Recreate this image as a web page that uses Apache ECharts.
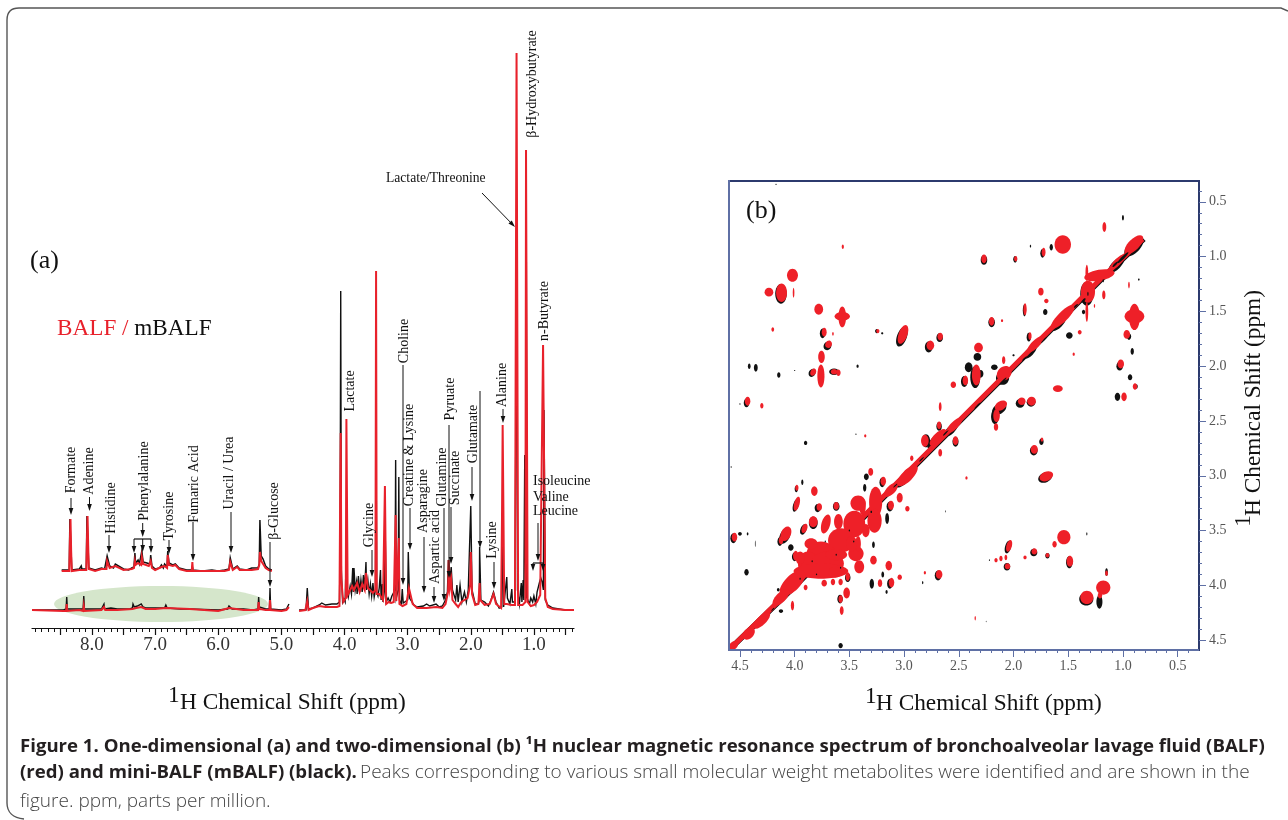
<!DOCTYPE html>
<html>
<head>
<meta charset="utf-8">
<style>html,body{margin:0;padding:0;background:#fff}#c{width:1288px;height:820px}</style>
<script src="https://cdn.jsdelivr.net/npm/echarts@6/dist/echarts.min.js"></script>
</head>
<body>
<div id="c"></div>
<script>
// ---------- Data: 1D spectrum as [ppm, intensity] ----------
const blackDownfield = [[8.95,0],[8.45,0],[8.41,1],[8.40,13],[8.39,1],[8.2,1],[8.14,1],[8.13,14],[8.12,1],[7.85,1],[7.82,1],[7.81,6],[7.80,1],[7.7,2],[7.6,1],[7.4,1],[7.36,2],[7.35,6],[7.33,3],[7.31,5],[7.28,4],[7.25,4],[7.22,6],[7.19,3],[7.17,5],[7.15,2],[7.05,2],[6.98,2],[6.85,2],[6.83,5],[6.81,2],[6.6,1],[6.46,1],[6.45,2],[6.44,1],[6.0,0],[5.85,1],[5.83,4],[5.80,3],[5.78,1],[5.6,1],[5.45,0],[5.37,1],[5.36,13],[5.35,3],[5.25,1],[5.19,1],[5.18,22],[5.17,1],[5.0,0],[4.92,1],[4.88,6]];
const redDownfield = [[8.95,0],[8.45,-1],[8.41,-1],[8.40,6],[8.39,-1],[8.2,0],[8.14,-1],[8.13,4],[8.12,-1],[7.85,0],[7.81,3],[7.79,0],[7.6,0],[7.36,1],[7.35,3],[7.3,2],[7.22,3],[7.15,1],[7.0,1],[6.83,2],[6.8,0],[6.45,1],[6.44,0],[6.0,-1],[5.83,2],[5.8,0],[5.6,0],[5.37,0],[5.36,8],[5.35,1],[5.25,0],[5.19,0],[5.18,10],[5.17,0],[5.0,-1],[4.92,0],[4.88,3]];
const blackUpfield = [[4.72,0],[4.61,0],[4.60,2],[4.59,22],[4.58,22],[4.57,1],[4.5,2],[4.40,5],[4.36,7],[4.30,5],[4.2,6],[4.12,6],[4.08,8],[4.07,60],[4.06,319],[4.05,40],[4.03,8],[4.01,11],[3.99,8],[3.97,63],[3.96,20],[3.94,13],[3.91,24],[3.89,16],[3.87,42],[3.86,18],[3.85,42],[3.83,20],[3.81,28],[3.80,16],[3.78,34],[3.76,18],[3.74,30],[3.72,18],[3.70,35],[3.68,22],[3.66,48],[3.65,20],[3.63,30],[3.61,16],[3.59,26],[3.57,14],[3.55,27],[3.53,13],[3.51,20],[3.50,175],[3.49,18],[3.47,14],[3.45,22],[3.43,40],[3.42,10],[3.40,26],[3.39,8],[3.37,18],[3.36,100],[3.35,100],[3.34,8],[3.31,12],[3.28,8],[3.25,14],[3.22,12],[3.20,20],[3.19,150],[3.18,12],[3.15,20],[3.14,133],[3.13,10],[3.10,6],[3.085,21],[3.07,7],[3.04,6],[3.0,10],[2.99,58],[2.98,58],[2.97,12],[2.94,12],[2.90,5],[2.85,3],[2.75,4],[2.70,6],[2.65,4],[2.55,6],[2.50,3],[2.45,4],[2.40,10],[2.37,18],[2.355,50],[2.345,40],[2.33,30],[2.31,43],[2.29,20],[2.26,22],[2.24,10],[2.22,25],[2.20,8],[2.17,25],[2.14,8],[2.10,18],[2.07,8],[2.04,20],[2.01,20],[2.00,104],[1.99,104],[1.98,20],[1.93,6],[1.88,6],[1.865,10],[1.86,63],[1.855,63],[1.84,10],[1.78,8],[1.72,4],[1.68,10],[1.64,18],[1.60,8],[1.55,2],[1.51,3],[1.50,97],[1.49,97],[1.48,3],[1.45,5],[1.43,33],[1.42,12],[1.38,6],[1.35,21],[1.34,8],[1.30,8],[1.28,10],[1.27,400],[1.26,20],[1.23,6],[1.20,27],[1.19,8],[1.17,30],[1.16,10],[1.145,155],[1.13,12],[1.12,350],[1.11,12],[1.07,6],[1.05,12],[1.02,8],[1.0,14],[.97,6],[.95,18],[.93,20],[.91,28],[.89,32],[.87,28],[.85,20],[.84,200],[.83,200],[.82,10],[.78,5],[.70,2],[.6,1],[.5,0],[.365,0]];
const redUpfield = [[4.72,-1],[4.62,0],[4.59,9],[4.57,0],[4.5,2],[4.40,4],[4.3,3],[4.12,3],[4.08,4],[4.07,100],[4.06,177],[4.05,30],[4.02,8],[3.98,12],[3.97,191],[3.96,191],[3.95,15],[3.92,14],[3.88,24],[3.85,20],[3.80,27],[3.76,18],[3.72,26],[3.68,20],[3.66,37],[3.63,22],[3.60,24],[3.55,17],[3.51,20],[3.50,339],[3.49,16],[3.45,16],[3.42,18],[3.39,10],[3.36,124],[3.35,124],[3.34,6],[3.30,8],[3.26,7],[3.22,8],[3.20,10],[3.19,95],[3.18,9],[3.15,8],[3.14,72],[3.13,6],[3.08,4],[3.02,6],[2.98,22],[2.95,20],[2.92,6],[2.85,2],[2.7,2],[2.55,3],[2.45,2],[2.40,6],[2.36,18],[2.35,50],[2.33,22],[2.31,30],[2.29,10],[2.24,6],[2.2,3],[2.15,8],[2.1,10],[2.05,12],[2.01,25],[2.0,58],[1.99,58],[1.98,16],[1.93,5],[1.88,6],[1.86,27],[1.85,10],[1.78,5],[1.7,6],[1.64,16],[1.6,6],[1.52,2],[1.505,95],[1.495,185],[1.485,185],[1.47,6],[1.43,6],[1.35,5],[1.30,5],[1.275,557],[1.265,557],[1.25,5],[1.18,5],[1.135,8],[1.125,460],[1.115,460],[1.10,8],[1.05,4],[1.0,5],[.95,8],[.90,15],[.87,16],[.855,265],[.835,265],[.82,12],[.78,3],[.7,1],[.5,0],[.365,0]];
// Enlarged aromatic trace
const insetBlack = [[8.48,1],[8.36,1],[8.35,52],[8.33,52],[8.32,1],[8.20,2],[8.17,5],[8.16,2],[8.09,2],[8.08,55],[8.06,55],[8.05,3],[7.95,1],[7.85,3],[7.80,2],[7.77,4],[7.76,15],[7.74,15],[7.72,5],[7.66,3],[7.63,7],[7.60,5],[7.5,2],[7.42,1],[7.37,3],[7.335,4],[7.32,18],[7.31,8],[7.29,6],[7.27,11],[7.25,7],[7.22,8],[7.21,20],[7.19,9],[7.16,11],[7.13,8],[7.10,6],[7.08,7],[7.07,16],[7.05,5],[7.0,2],[6.93,3],[6.90,6],[6.87,3],[6.85,7],[6.81,4],[6.80,20],[6.78,8],[6.72,6],[6.68,7],[6.62,3],[6.5,1],[6.42,1],[6.41,4],[6.40,1],[6.25,0],[6.1,1],[6.0,0],[5.9,1],[5.83,2],[5.81,13],[5.79,13],[5.77,2],[5.70,5],[5.66,2],[5.55,1],[5.47,3],[5.37,3],[5.35,7],[5.34,51],[5.33,51],[5.32,15],[5.29,12],[5.25,5],[5.2,2],[5.15,1]];
const insetRed = [[8.48,0],[8.36,0],[8.35,30],[8.34,52],[8.33,20],[8.32,0],[8.20,1],[8.17,3],[8.16,1],[8.09,1],[8.08,30],[8.07,55],[8.06,25],[8.05,2],[7.95,0],[7.85,2],[7.77,2],[7.76,10],[7.74,10],[7.72,3],[7.63,5],[7.60,3],[7.5,1],[7.37,2],[7.335,3],[7.32,10],[7.31,6],[7.27,8],[7.22,6],[7.21,14],[7.19,7],[7.16,8],[7.10,5],[7.07,10],[7.05,3],[7.0,1],[6.90,4],[6.85,5],[6.81,3],[6.80,16],[6.78,6],[6.72,5],[6.68,6],[6.62,2],[6.5,0],[6.42,0],[6.41,9],[6.40,0],[6.1,0],[5.9,0],[5.83,1],[5.81,9],[5.79,9],[5.77,1],[5.70,4],[5.66,1],[5.47,1],[5.37,2],[5.35,6],[5.34,19],[5.33,19],[5.32,10],[5.29,8],[5.25,3],[5.2,1],[5.15,0]];

// ---------- Data: 2D spectrum peaks as [f2 ppm, f1 ppm, f2 width, f1 width, tilt degrees] ----------
const diagonalRed = [[.82,.84],[1.2,1.2],[2,2],[3,3],[4,4],[4.56,4.55]];
const diagonalBlack = [[.81,.84],[1.2,1.21],[2,2.01],[3,3.01],[4,4.01],[4.57,4.56]];
const redPeaks = [
[4.02,1.17,.10,.12,0],[4.12,1.33,.10,.17,0],[4.235,1.325,.08,.08,0],[4.01,1.33,.015,.09,0],[3.56,.91,.02,.04,0],[3.78,1.48,.08,.10,0],[3.565,1.545,.14,.08,0],[3.565,1.55,.07,.19,0],[4.20,1.665,.025,.04,0],[3.73,1.69,.045,.08,0],[3.65,1.705,.015,.035,0],[3.69,1.80,.06,.07,-30],[3.755,1.915,.06,.11,0],[3.76,2.09,.065,.21,0],[3.83,2.055,.05,.07,-30],[3.64,2.05,.06,.05,0],[3.60,2.06,.04,.06,0],[4.43,2.32,.05,.08,0],[4.30,2.36,.03,.05,0],[3.24,1.68,.03,.04,0],[3.01,1.71,.08,.18,-20],[2.76,1.81,.07,.09,0],[2.67,1.73,.05,.07,0],[2.27,1.02,.05,.08,0],[2.20,1.59,.05,.08,0],[2.32,1.83,.08,.09,0],[2.34,2.08,.08,.19,0],[2.44,2.13,.05,.09,0],[2.55,2.17,.05,.06,0],[2.67,2.37,.025,.08,0],[2.68,2.54,.04,.07,0],
[1.55,.89,.15,.17,0],[1.17,.73,.035,.09,0],[1.725,.96,.035,.08,0],[1.98,1.02,.03,.05,0],[1.75,1.32,.05,.07,0],[1.70,1.405,.04,.04,0],[1.895,1.48,.03,.11,0],[2.105,1.585,.02,.025,0],[1.85,1.725,.03,.07,0],[1.395,1.69,.035,.04,0],[1.45,1.89,.02,.03,0],[2.09,1.945,.03,.07,0],[1.02,1.98,.06,.08,0],[.89,2.185,.04,.06,0],[.99,2.28,.05,.08,0],[1.595,2.205,.09,.06,0],[1.835,2.32,.08,.08,0],[1.925,2.32,.07,.07,0],[2.115,2.36,.12,.08,30],[2.155,2.45,.06,.12,0],[2.16,2.555,.04,.07,0],[.895,1.545,.18,.13,0],[.895,1.55,.10,.24,0],[.965,1.71,.06,.08,0],[.945,1.26,.015,.06,0],[1.33,1.505,.025,.18,0],[1.33,1.15,.025,.15,0],[1.175,1.35,.03,.08,0],[1.26,1.45,.012,.035,0],
[.90,.89,.22,.10,45],[1.05,1.05,.20,.06,45],[1.215,1.17,.28,.10,10],[1.32,1.32,.13,.20,0],[1.55,1.55,.30,.09,45],[1.8,1.8,.20,.07,45],[2.085,2.065,.15,.12,45],[2.54,2.54,.20,.07,45],[2.69,2.65,.20,.08,45],[2.97,3.0,.25,.10,45],[3.12,3.13,.16,.08,45],[3.26,3.24,.12,.28,0],[3.27,3.41,.13,.22,0],[3.42,3.25,.14,.14,0],[3.38,3.28,.06,.15,0],[3.455,3.44,.20,.24,0],[3.575,3.59,.24,.22,0],[3.76,3.71,.26,.22,0],[3.88,3.80,.18,.22,0],[3.70,3.80,.30,.22,0],[3.76,3.87,.50,.14,0],[3.44,3.71,.14,.14,0],[3.42,3.62,.05,.14,0],[3.41,3.83,.09,.12,0],[3.85,3.62,.12,.10,0],[3.62,3.72,.20,.10,0],[3.95,3.75,.08,.12,0],[3.60,3.42,.08,.14,0],[3.35,3.50,.07,.12,0],[3.48,3.62,.10,.14,0],[3.63,3.88,.12,.10,0],[3.28,3.77,.06,.08,0],[3.14,3.82,.06,.09,0],[2.68,3.90,.06,.08,0],[3.515,3.92,.04,.08,0],[3.58,3.97,.04,.06,0],[3.73,3.98,.05,.06,0],[3.65,3.97,.04,.06,0],[3.90,4.02,.035,.05,0],[4.02,3.98,.30,.14,45],[4.125,4.11,.20,.09,45],[4.30,4.32,.20,.08,45],[4.42,4.44,.13,.09,45],[4.56,4.55,.10,.07,45],[3.525,4.07,.06,.10,0],[3.58,4.125,.04,.07,0],[3.57,4.23,.035,.08,0],[3.22,3.98,.04,.07,0],[3.115,3.975,.05,.09,0],[3.04,3.925,.04,.05,0],[2.81,3.885,.02,.03,0],[4.55,3.56,.05,.08,0],[4.08,3.53,.09,.14,-25],[4.125,3.59,.04,.07,0],[3.99,3.73,.05,.09,0],[3.91,3.48,.05,.09,-20],[3.83,3.42,.08,.10,0],[3.715,3.44,.08,.18,-15],[3.775,3.285,.05,.07,0],[3.62,3.275,.05,.07,0],[3.82,3.14,.06,.09,0],[3.98,3.11,.03,.055,0],[3.98,3.255,.05,.13,-15],[3.355,2.635,.02,.03,0],[3.305,2.965,.045,.07,0],[3.19,3.05,.05,.08,0],[3.12,3.27,.055,.085,0],[3.04,3.20,.055,.09,0],[2.97,3.30,.04,.05,0],[2.81,2.68,.07,.11,0],[2.53,2.68,.05,.08,0],[2.67,2.79,.035,.07,0],[2.93,2.84,.03,.05,0],[2.43,3.02,.02,.03,0],[4.02,4.185,.03,.09,0],[2.35,4.30,.012,.04,0],
[1.81,2.76,.065,.08,0],[1.74,2.67,.025,.04,0],[1.70,3.005,.13,.085,25],[1.54,3.56,.12,.13,0],[1.625,3.625,.04,.06,0],[2.04,3.64,.05,.11,-15],[1.81,3.69,.05,.055,0],[1.69,3.725,.035,.04,0],[1.895,3.745,.03,.035,0],[2.07,3.745,.025,.05,0],[2.115,3.755,.03,.05,0],[2.16,3.77,.03,.04,0],[2.055,3.825,.05,.055,0],[1.485,3.78,.06,.10,0],[1.33,4.11,.12,.12,0],[1.18,4.02,.13,.13,0],[1.21,4.09,.04,.06,0],[1.15,3.89,.025,.05,0]];
const blackPeaks = [
[4.125,1.34,.105,.18,0],[4.415,2.0,.025,.05,0],[4.355,2.015,.035,.07,0],[4.145,2.08,.03,.05,0],[4.0,2.04,.012,.01,0],[3.425,2.0,.02,.03,0],[2.33,1.915,.07,.07,0],[2.41,2.01,.07,.09,0],[2.30,2.07,.05,.07,0],[2.175,2.01,.06,.05,0],[4.5,2.345,.012,.012,0],[3.84,2.06,.06,.08,-30],[3.64,2.05,.09,.06,0],[4.44,2.335,.05,.08,0],[3.745,1.70,.05,.09,0],[3.70,1.815,.07,.08,-30],[3.25,1.68,.03,.04,0],[3.2,1.7,.02,.02,0],[3.02,1.73,.09,.19,-20],[2.775,1.825,.07,.10,0],[2.675,1.74,.06,.08,0],[2.27,1.03,.06,.09,0],[2.20,1.60,.06,.09,0],[2.35,2.10,.09,.20,0],[2.45,2.14,.06,.10,0],[2.68,2.55,.05,.08,0],
[1.00,.645,.018,.05,0],[1.845,.905,.012,.025,0],[1.735,.97,.04,.08,0],[1.655,.915,.03,.06,0],[1.985,1.025,.035,.06,0],[1.9,1.49,.03,.11,0],[1.71,1.505,.04,.055,0],[1.49,1.72,.06,.06,0],[1.86,1.735,.04,.08,0],[.915,1.865,.03,.06,0],[.935,2.10,.04,.055,0],[.875,2.185,.02,.04,0],[1.05,2.28,.05,.075,0],[.855,1.21,.015,.02,0],[1.36,1.505,.03,.04,0],[.945,1.73,.04,.06,0],[1.03,2.0,.06,.08,0],[1.84,2.33,.08,.08,0],[1.94,2.34,.08,.08,0],[2.13,2.39,.14,.09,30],[2.17,2.46,.07,.14,0],[1.6,.89,.02,.05,0],
[.90,.91,.22,.11,45],[1.06,1.075,.2,.08,45],[1.33,1.34,.12,.22,0],[1.59,1.61,.18,.08,45],[1.85,1.87,.16,.07,45],[2.10,2.11,.12,.12,45],[2.0,1.9,.02,.02,0],[2.57,2.58,.16,.07,45],[2.71,2.68,.2,.08,45],[3.0,3.03,.2,.08,45],[3.9,2.70,.03,.04,0],[3.93,3.06,.02,.05,0],[3.345,3.01,.045,.06,0],[3.36,3.11,.03,.07,0],[3.20,3.06,.05,.09,0],[3.13,3.28,.06,.09,0],[3.155,3.39,.035,.10,0],[3.62,3.28,.06,.08,0],[3.79,3.295,.055,.075,0],[3.83,3.43,.08,.11,0],[3.92,3.49,.055,.1,-20],[3.99,3.27,.05,.12,-15],[3.985,3.12,.03,.06,0],[4.09,3.55,.09,.15,-25],[4.135,3.60,.045,.08,0],[4.035,3.655,.05,.06,0],[4.00,3.74,.05,.08,0],[3.28,3.63,.025,.06,0],[4.36,3.62,.006,.06,0],[4.56,3.57,.055,.09,0],[4.50,3.53,.035,.035,0],[4.43,3.53,.015,.03,0],[4.44,3.88,.04,.06,0],[3.515,3.93,.05,.08,0],[3.585,4.125,.05,.08,0],[3.58,4.55,.04,.05,0],[3.295,3.985,.04,.09,0],[3.16,4.06,.02,.035,0],[3.195,3.90,.025,.055,0],[3.13,3.985,.05,.09,0],[2.83,3.975,.012,.03,0],[2.62,3.325,.006,.02,0],[2.25,4.33,.006,.012,0],[2.69,3.91,.06,.09,0],[4.125,4.235,.04,.035,0],[4.15,4.04,.025,.03,0],[4.58,2.92,.012,.012,0],[3.44,2.62,.012,.012,0],[2.8,2.68,.075,.12,0],[2.53,2.69,.055,.09,0],
[1.745,2.69,.04,.06,0],[1.815,2.77,.07,.09,0],[1.71,3.015,.135,.09,25],[2.05,3.65,.055,.12,-15],[1.815,3.70,.065,.07,0],[1.69,3.73,.04,.05,0],[2.06,3.83,.06,.07,0],[1.49,3.79,.06,.11,0],[1.335,4.125,.13,.12,0],[1.215,4.15,.055,.125,0],[1.15,3.88,.025,.07,0],[1.33,3.53,.01,.03,0],[2.22,3.77,.01,.015,0],[4.17,.34,.012,.012,0]];
const blackSpecks = [[1.0,1.01,.14,.025,45],[1.07,1.07,.07,.02,45],[1.36,1.40,.05,.02,45],[1.43,1.45,.05,.015,45],[1.72,1.76,.08,.012,45],[1.9,1.93,.06,.012,45],[2.1,2.14,.1,.015,45],[2.33,2.36,.08,.012,45],[2.62,2.61,.07,.012,45],[2.84,2.85,.06,.012,45],[3.08,3.09,.05,.012,45],[3.3,3.33,.015,.02,0],[3.5,3.5,.012,.018,0],[3.62,3.72,.012,.018,0],[3.72,3.6,.012,.018,0],[3.84,3.78,.012,.018,0],[3.58,3.84,.012,.018,0],[3.8,3.9,.012,.015,0],[3.46,3.6,.012,.018,0],[3.95,3.94,.012,.02,0],[4.2,4.22,.04,.01,45],[1.18,1.22,.012,.03,0],[1.32,1.34,.012,.04,0]];

// ---------- Axes and text ----------
const spectrumLabels = ['8.0','7.0','6.0','5.0','4.0','3.0','2.0','1.0'];
const spectrumLabelValues = [8,7,6,5,4,3,2,1];
const spectrumMajorTicks = [8.5,8,7.5,7,6.5,6,5.5,5,4.5,4,3.5,3,2.5,2,1.5,1,.5];
const cosyLabelValues = [4.5,4,3.5,3,2.5,2,1.5,1,.5];
const peakNames = ['Formate','Adenine','Histidine','Phenylalanine','Tyrosine','Fumaric Acid','Uracil / Urea','β-Glucose','Lactate','Glycine','Choline','Creatine & Lysine','Asparagine','Aspartic acid','Glutamine','Pyruate','Succinate','Glutamate','Lysine','Alanine','n-Butyrate','β-Hydroxybutyrate'];

const SERIF = 'Liberation Serif';
const CAPTION = 'Open Sans';
const peakLabelCenters = [[71,470],[89,471],[111,508],[144,481],[169,516],[194,484],[229,473],[274,511],[350,391],[369,525],[404,341],[409,455],[423,501],[435,547],[442,477],[450,399],[455,478],[473,434],[492,540],[502,385],[544,311],[532,84]];
const arrows = [[71,498,71,515],[89.5,497,89.5,511],[109,535,109,553],[142.7,523,142.7,537],[134,539,134,553],[142.7,539,142.7,552],[151,539,151,553],[169,540,169,554],[193,522,193,561],[231,512,231,553],[270,542,270,587],[372,550,372,577],[403,365,403,585],[410,508,410,550],[424,537,424,593],[434,587,434,603],[444,508,444,601],[449,425,449,578],[451,507,451,564],[472,467,472,501],[480,391,480,548],[494,562,494,589],[503,409,503,423],[538,523,538,561],[533,563,533,571],[543,563,543,571],[482,193,515,227]];
const brackets = [[134,539,151,539],[533,563,543,563]];

function rotated(text,x,y,size,color){
  return {type:'text',z:20,x,y,rotation:Math.PI/2,style:{text,font:`${size}px "${SERIF}"`,fill:color||'#111',textAlign:'center',textVerticalAlign:'middle'}};
}
function flat(text,x,y,size,color,align){
  return {type:'text',z:20,x,y,style:{text,font:`${size}px "${SERIF}"`,fill:color||'#111',textAlign:align||'left',textVerticalAlign:'middle'}};
}
function arrow(a){
  const [x1,y1,x2,y2]=a, t=Math.atan2(y2-y1,x2-x1), L=7, W=2.3;
  const bx=x2-L*Math.cos(t), by=y2-L*Math.sin(t), nx=-Math.sin(t)*W, ny=Math.cos(t)*W;
  return [
    {type:'line',z:20,shape:{x1,y1,x2:bx,y2:by},style:{stroke:'#111',lineWidth:1}},
    {type:'polygon',z:20,shape:{points:[[x2,y2],[bx+nx,by+ny],[bx-nx,by-ny]]},style:{fill:'#111'}}
  ];
}
const frameStyle = {fill:'none',stroke:'#555',lineWidth:1.4};
const graphics = [
  {type:'polyline',z:1,shape:{points:[[7,803],[7,20]]},style:frameStyle},
  {type:'polyline',z:1,shape:{points:[[19,8],[1281,8],[1288,11]]},style:frameStyle},
  {type:'bezierCurve',z:1,shape:{x1:7,y1:20,cpx1:7,cpy1:12,cpx2:11,cpy2:8,x2:19,y2:8},style:frameStyle},
  {type:'bezierCurve',z:1,shape:{x1:7,y1:803,cpx1:7,cpy1:812,cpx2:13,cpy2:818,x2:24,y2:819},style:frameStyle},
  {type:'ellipse',z:1,shape:{cx:161,cy:604,rx:107,ry:18},style:{fill:'#d5e6cb'}},
  {type:'line',z:20,shape:{x1:729,y1:180,x2:729,y2:651},style:{stroke:'#5f70a5',lineWidth:2}},
  {type:'line',z:20,shape:{x1:728,y1:650,x2:1199,y2:650},style:{stroke:'#5f70a5',lineWidth:2}},
  flat('(a)',30,261,26),flat('(b)',746,211,26),
  {type:'text',z:20,x:57,y:329,style:{text:'{r|BALF / }{k|mBALF}',textVerticalAlign:'middle',rich:{r:{font:`23.2px "${SERIF}"`,fill:'#e8212b'},k:{font:`23.2px "${SERIF}"`,fill:'#111'}}}},
  flat('Lactate/Threonine',386,178,13.6),
  flat('Isoleucine',533,481.5,14),flat('Valine',533,497,14),flat('Leucine',533,511,14),
  flat('1',168,696,23.3),flat('H Chemical Shift (ppm)',180,703,23.3),
  flat('1',865,697,23.3),flat('H Chemical Shift (ppm)',876,704,23.3),
  rotated('1',1244,521,23.3),rotated('H Chemical Shift (ppm)',1254,403,23.3),
  {type:'text',z:20,x:20,y:747,style:{text:'Figure 1. One-dimensional (a) and two-dimensional (b) ¹H nuclear magnetic resonance spectrum of bronchoalveolar lavage fluid (BALF)',font:`bold 18.6px "${CAPTION}"`,fill:'#231f20',textVerticalAlign:'middle'}},
  {type:'text',z:20,x:20,y:773,style:{text:'{b|(red) and mini-BALF (mBALF) (black).} {r|Peaks corresponding to various small molecular weight metabolites were identified and are shown in the}',textVerticalAlign:'middle',rich:{b:{font:`bold 18.6px "${CAPTION}"`,fill:'#231f20'},r:{font:`300 19px "${CAPTION}"`,fill:'#444'}}}},
  {type:'text',z:20,x:20,y:802,style:{text:'figure. ppm, parts per million.',font:`300 19px "${CAPTION}"`,fill:'#444',textVerticalAlign:'middle'}}
];
peakNames.forEach((n,i)=>graphics.push(rotated(n,peakLabelCenters[i][0],peakLabelCenters[i][1],14)));
arrows.forEach(a=>graphics.push(...arrow(a)));
brackets.forEach(b=>graphics.push({type:'line',z:20,shape:{x1:b[0],y1:b[1],x2:b[2],y2:b[3]},style:{stroke:'#111',lineWidth:1.2}}));

function steps(a,b,s){const r=[];for(let v=a;v<=b+1e-9;v+=s)r.push(+v.toFixed(2));return r;}
const spectrumMinor = steps(.4,8.9,.1), cosyMinor = steps(.4,4.5,.1), cosyMajor = cosyLabelValues;

function trace(name,data,color,width,yIdx){
  return {name,type:'line',data,xAxisIndex:0,yAxisIndex:yIdx,showSymbol:false,symbol:'none',smooth:false,animation:false,clip:true,
    lineStyle:{color,width,join:'miter'},z:color==='#e8212b'?4:3};
}
function peakLayer(name,data,color,z){
  return {name,type:'custom',data,xAxisIndex:2,yAxisIndex:2,z,animation:false,clip:true,encode:{x:0,y:1},
    renderItem(p,api){
      const c=api.coord([api.value(0),api.value(1)]), s=api.size([api.value(2),api.value(3)]);
      return {type:'ellipse',x:c[0],y:c[1],rotation:api.value(4)*Math.PI/180,shape:{cx:0,cy:0,rx:s[0]/2,ry:s[1]/2},style:{fill:color}};
    }};
}
function ridge(name,data,color,width,z){
  return {name,type:'line',data,xAxisIndex:2,yAxisIndex:2,symbol:'none',z,animation:false,lineStyle:{color,width}};
}

const option = {
  backgroundColor:'#fff',animation:false,
  grid:[
    {left:32,width:542,top:40,height:588},
    {left:729,width:470,top:181,height:469,show:true,borderColor:'#2c3a6e',borderWidth:2,backgroundColor:'transparent'}
  ],
  xAxis:[
    {type:'value',gridIndex:0,inverse:true,min:.365,max:8.95,position:'bottom',splitLine:{show:false},
     axisLine:{onZero:false,lineStyle:{color:'#111',width:1.2}},
     axisTick:{customValues:spectrumMajorTicks,length:7,lineStyle:{color:'#111',width:1.2}},
     axisLabel:{customValues:spectrumLabelValues,formatter:v=>spectrumLabels[spectrumLabelValues.indexOf(v)]||'',fontFamily:SERIF,fontSize:19,color:'#333',margin:8}},
    {type:'value',gridIndex:0,inverse:true,min:.365,max:8.95,position:'bottom',splitLine:{show:false},axisLine:{show:false,onZero:false},
     axisTick:{customValues:spectrumMinor,length:4,lineStyle:{color:'#111',width:1}},axisLabel:{show:false}},
    {type:'value',gridIndex:1,inverse:true,min:.305,max:4.6,position:'bottom',splitLine:{show:false},
     axisLine:{show:false,onZero:false},
     axisTick:{customValues:cosyMajor,length:7,lineStyle:{color:'#5f70a5',width:1}},
     axisLabel:{customValues:cosyLabelValues,formatter:v=>v.toFixed(1),fontFamily:SERIF,fontSize:14,color:'#555',margin:9}},
    {type:'value',gridIndex:1,inverse:true,min:.305,max:4.6,position:'bottom',splitLine:{show:false},axisLine:{show:false,onZero:false},
     axisTick:{customValues:cosyMinor,length:3,lineStyle:{color:'#5f70a5',width:1}},axisLabel:{show:false}}
  ],
  yAxis:[
    {type:'value',gridIndex:0,min:-18,max:570,show:false},
    {type:'value',gridIndex:0,min:-57,max:531,show:false},
    {type:'value',gridIndex:1,inverse:true,min:.31,max:4.59,position:'right',splitLine:{show:false},axisLine:{show:false,onZero:false},
     axisTick:{customValues:cosyMajor,length:7,lineStyle:{color:'#5f70a5',width:1}},
     axisLabel:{customValues:cosyLabelValues,formatter:v=>v.toFixed(1),fontFamily:SERIF,fontSize:14,color:'#555',margin:10}},
    {type:'value',gridIndex:1,inverse:true,min:.31,max:4.59,position:'right',splitLine:{show:false},axisLine:{show:false,onZero:false},
     axisTick:{customValues:cosyMinor,length:3,lineStyle:{color:'#5f70a5',width:1}},axisLabel:{show:false}}
  ],
  series:[
    trace('mBALF downfield',blackDownfield,'#111',1.4,0),
    trace('BALF downfield',redDownfield,'#e8212b',2,0),
    trace('mBALF upfield',blackUpfield,'#111',1.4,0),
    trace('BALF upfield',redUpfield,'#e8212b',2,0),
    trace('mBALF aromatic',insetBlack,'#111',1.5,1),
    trace('BALF aromatic',insetRed,'#e8212b',2,1),
    ridge('mBALF diagonal',diagonalBlack,'#111',5.5,5),
    peakLayer('mBALF cross peaks',blackPeaks,'#111',6),
    ridge('BALF diagonal',diagonalRed,'#ee2028',5,7),
    peakLayer('BALF cross peaks',redPeaks,'#ee2028',8),
    peakLayer('mBALF specks',blackSpecks,'#111',9)
  ],
  graphic:{elements:graphics}
};
const chart = echarts.init(document.getElementById('c'),null,{renderer:'canvas',width:1288,height:820});
chart.setOption(option);
</script>
</body>
</html>
